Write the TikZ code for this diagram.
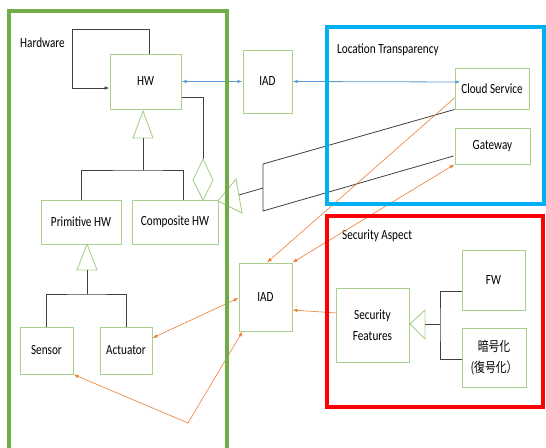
\documentclass[tikz,border=0pt]{standalone}
\usepackage{fontspec}
\setmainfont[FakeStretch=0.8]{Carlito}
\newfontfamily\cjk[FakeStretch=0.8]{Noto Sans CJK JP}
\usetikzlibrary{arrows.meta,calc}
\definecolor{boxgreen}{HTML}{A9D18E}
\definecolor{framegreen}{HTML}{70AD47}
\definecolor{frameblue}{HTML}{00B0F0}
\definecolor{framered}{HTML}{FF0000}
\definecolor{linkblue}{HTML}{5B9BD5}
\definecolor{linkorange}{HTML}{ED7D31}
\definecolor{linegray}{HTML}{404040}
\begin{document}
\begin{tikzpicture}[x=1pt,y=-1pt,
  >={Latex[length=5pt,width=3.5pt]},
  txt/.style={font=\fontsize{14}{21}\selectfont, inner sep=0pt},
  box/.style={txt, draw=boxgreen, line width=1pt, fill=white, align=center},
  frame/.style={line width=3.2pt},
  tree/.style={draw=linegray, line width=0.8pt},
  hollow/.style={draw=boxgreen, line width=0.9pt},
  blueline/.style={linkblue, line width=0.8pt, <->},
  orangeline/.style={linkorange, line width=0.6pt}]

\useasboundingbox (0,0) rectangle (546,447);
\clip (0,0) rectangle (546,447);

% class boxes
\node[box, minimum width=71pt, minimum height=55pt] (hw) at (145.5,81.5) {HW};
\node[box, minimum width=80pt, minimum height=44pt] (prim) at (81,222) {Primitive HW};
\node[box, minimum width=86pt, minimum height=44pt] (comp) at (175,222) {Composite HW};
\node[box, minimum width=53pt, minimum height=47pt] (sensor) at (46.5,350.5) {Sensor};
\node[box, minimum width=52pt, minimum height=47pt] (act) at (126,350.5) {Actuator};
\node[box, minimum width=49pt, minimum height=63pt] (iad1) at (267.5,81.5) {IAD};
\node[box, minimum width=53pt, minimum height=68pt] (iad2) at (265.5,297) {IAD};
\node[box, minimum width=74pt, minimum height=41pt] (cloud) at (492,88.5) {Cloud Service};
\node[box, minimum width=75pt, minimum height=36pt] (gw) at (492.5,146) {Gateway};
\node[box, minimum width=73pt, minimum height=74pt] (secf) at (372.5,325) {Security\\Features};
\node[box, minimum width=63pt, minimum height=60pt] (fw) at (493.5,280) {FW};
\node[box, minimum width=64pt, minimum height=59pt, font=\cjk\fontsize{13.5}{21}\selectfont] (enc) at (494,357.5) {暗号化\\(復号化）};

% group titles
\node[txt, anchor=west] (hwtitle) at (20,43) {Hardware};
\node[txt, anchor=west] (lttitle) at (337,50) {Location Transparency};
\node[txt, anchor=west] (satitle) at (342,236) {Security Aspect};

% HW self association
\coordinate (loopB) at (72,29);
\draw[tree, ->] ($(hw.north)+(3.5,0)$) |- (loopB) |- ($(hw.west)+(0,6.5)$);

% HW generalisation
\draw[hollow] (143,111) -- (153,138) -- (133,138) -- cycle;
\coordinate (hwbase) at (143,138);
\coordinate (hwjoin) at (143,170);
\draw[tree] (hwbase) -- (hwjoin);
\draw[tree] (prim.north) |- (hwjoin) -| ($(comp.north)+(8,0)$);

% composite aggregation
\coordinate (diatop) at (203,159);
\draw[tree] ($(hw.east)+(0,15.5)$) -| (diatop);
\draw[hollow] (203,159) -- (213,180) -- (203,200) -- (193,180) -- cycle;

% Primitive HW generalisation
\draw[hollow] (87,244) -- (97,270) -- (77,270) -- cycle;
\coordinate (pbase) at (87,270);
\coordinate (pjoin) at (87,294);
\draw[tree] (pbase) -- (pjoin);
\draw[tree] (sensor.north) |- (pjoin) -| (act.north);

% Cloud Service / Gateway generalisation
\draw[hollow] (218,201) -- (236,179) -- (242,213) -- cycle;
\coordinate (gtri) at (239,195);
\coordinate (gmid) at (263,188);
\coordinate (gv1) at (263,164);
\coordinate (gv2) at (263,211);
\draw[tree] (gtri) -- (gmid);
\draw[tree] (cloud.south west) -- (gv1) -- (gv2) -- ($(gw.west)+(-1,10)$);

% security features generalisation
\draw[hollow] (410,324) -- (425,310) -- (425,339) -- cycle;
\coordinate (sbase) at (425,324);
\coordinate (sjoin) at (440,324);
\draw[tree] (sbase) -- (sjoin);
\draw[tree] ($(fw.west)+(0,11)$) -| (sjoin) |- ($(enc.west)+(0,1.5)$);

% location links
\draw[blueline] (hw.east) -- (iad1.west);
\draw[blueline] (iad1.east) -- ($(cloud.west)+(6,-6.5)$);

% IAD links
\coordinate (sbend) at (188,423);
\draw[orangeline, ->] ($(cloud.west)+(0,9.5)$) -- ($(iad2.north)+(1.5,0)$);
\draw[orangeline, <->] (iad2.north east) -- (gw.south west);
\draw[orangeline, ->] ($(secf.west)+(1,-12)$) -- ($(iad2.east)+(0,13)$);
\draw[orangeline, <->] ($(iad2.west)+(0,1)$) -- ($(act.east)+(0,-12.5)$);
\draw[orangeline, <->] (sensor.south east) -- (sbend) -- ($(iad2.south west)+(4,0)$);

% group frames
\draw[framegreen, frame] (9,11) rectangle (227,470);
\draw[frameblue, frame] (327,27) rectangle (544,204);
\draw[framered, frame] (327,216) rectangle (543,407);
\end{tikzpicture}
\end{document}
